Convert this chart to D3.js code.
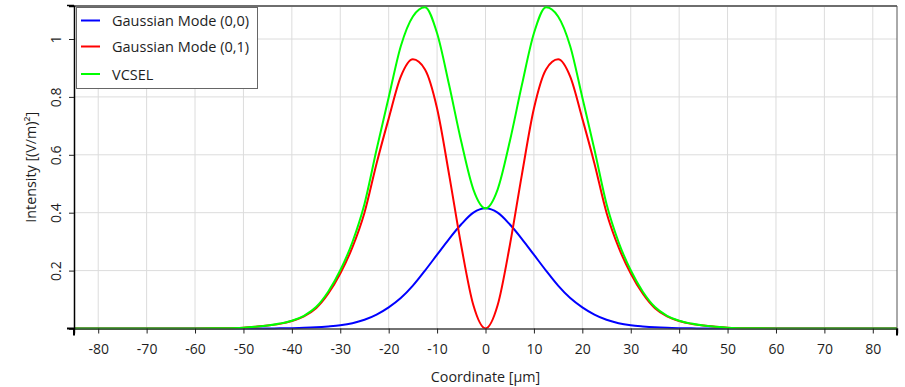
<!DOCTYPE html>
<html>
<head>
<meta charset="utf-8">
<script src="https://cdn.jsdelivr.net/npm/d3@7"></script>
<style>
  html, body { margin: 0; padding: 0; background: #ffffff; }
  svg { display: block; font-family: "Open Sans", "Noto Sans", sans-serif; }
</style>
</head>
<body>
<svg id="chart" width="905" height="387"></svg>
<script>
// Coordinate samples [µm]
const coords = [-85, -70, -60, -55, -50, -47.5, -45, -42.5, -40, -37.5, -35, -32.5, -30, -27.5, -25, -22.5,
  -20, -17.5, -15, -12.5, -10, -7.5, -5, -2.5, 0, 2.5, 5, 7.5, 10, 12.5, 15, 17.5,
  20, 22.5, 25, 27.5, 30, 32.5, 35, 37.5, 40, 42.5, 45, 47.5, 50, 55, 60, 70, 85];

// Intensity values
const mode00 = [0, 0, 0, 0, 0.0001, 0.0002, 0.0003, 0.0006, 0.0012, 0.0022, 0.004, 0.007, 0.011, 0.018, 0.03, 0.048,
  0.073, 0.105, 0.148, 0.2, 0.255, 0.31, 0.36, 0.4, 0.415, 0.4, 0.36, 0.31, 0.255, 0.2, 0.148, 0.105,
  0.073, 0.048, 0.03, 0.018, 0.011, 0.007, 0.004, 0.0022, 0.0012, 0.0006, 0.0003, 0.0002, 0.0001, 0, 0, 0, 0];

const mode01 = [0, 0, 0.0003, 0.001, 0.003, 0.006, 0.01, 0.016, 0.026, 0.042, 0.07, 0.12, 0.19, 0.28, 0.4, 0.57,
  0.725, 0.87, 0.93, 0.895, 0.76, 0.53, 0.285, 0.08, 0, 0.08, 0.285, 0.53, 0.76, 0.895, 0.93, 0.87,
  0.725, 0.57, 0.4, 0.28, 0.19, 0.12, 0.07, 0.042, 0.026, 0.016, 0.01, 0.006, 0.003, 0.001, 0.0003, 0, 0];

const vcsel = [0, 0, 0.0003, 0.001, 0.003, 0.006, 0.01, 0.017, 0.027, 0.044, 0.074, 0.127, 0.201, 0.298, 0.43, 0.618,
  0.798, 0.975, 1.078, 1.11, 1.02, 0.84, 0.645, 0.48, 0.415, 0.48, 0.645, 0.84, 1.02, 1.11, 1.078, 0.975,
  0.798, 0.618, 0.43, 0.298, 0.201, 0.127, 0.074, 0.044, 0.027, 0.017, 0.01, 0.006, 0.003, 0.001, 0.0003, 0, 0];

const seriesNames = ['Gaussian Mode (0,0)', 'Gaussian Mode (0,1)', 'VCSEL'];
const seriesColors = ['#0000ff', '#ff0000', '#00ff00'];
const xTicks = [-80, -70, -60, -50, -40, -30, -20, -10, 0, 10, 20, 30, 40, 50, 60, 70, 80];
const yTicks = [0.2, 0.4, 0.6, 0.8, 1];

const svg = d3.select('#chart');
const plotLeft = 74, plotRight = 897, plotTop = 6, plotBottom = 328.5;
const textColor = '#1e1e1e';

const x = d3.scaleLinear().domain([-85, 85]).range([plotLeft, plotRight]);
const y = d3.scaleLinear().domain([0, 1.114]).range([plotBottom, plotTop]);

// Grid
const grid = svg.append('g').attr('class', 'grid');
grid.selectAll('line.v')
  .data(xTicks)
  .enter()
  .append('line')
  .attr('x1', d => x(d)).attr('x2', d => x(d))
  .attr('y1', plotTop).attr('y2', plotBottom)
  .attr('stroke', '#dcdcdc').attr('stroke-width', 1);
grid.selectAll('line.h')
  .data(yTicks)
  .enter()
  .append('line')
  .attr('x1', plotLeft).attr('x2', plotRight)
  .attr('y1', d => y(d)).attr('y2', d => y(d))
  .attr('stroke', '#dcdcdc').attr('stroke-width', 1);

// Frame
svg.append('line').attr('x1', plotLeft).attr('x2', plotRight).attr('y1', plotTop).attr('y2', plotTop)
  .attr('stroke', '#6e6e6e').attr('stroke-width', 2);
svg.append('line').attr('x1', plotRight).attr('x2', plotRight).attr('y1', plotTop).attr('y2', plotBottom)
  .attr('stroke', '#555').attr('stroke-width', 1);

// Lines
const line = d3.line()
  .x((d, i) => x(coords[i]))
  .y(d => y(d))
  .curve(d3.curveMonotoneX);

const linesGroup = svg.append('g').attr('class', 'lines');
[mode00, mode01, vcsel].forEach((vals, i) => {
  linesGroup.append('path')
    .attr('d', line(vals))
    .attr('fill', 'none')
    .attr('stroke', seriesColors[i])
    .attr('stroke-width', 2)
    .attr('stroke-linejoin', 'round');
});

// Axes (plain hyphen for negatives, like the original)
const xAxis = svg.append('g')
  .attr('transform', `translate(0,${plotBottom})`)
  .call(d3.axisBottom(x).tickValues(xTicks).tickSize(5).tickFormat(d => String(d)));
xAxis.select('.domain').attr('stroke', '#444').attr('stroke-width', 1.5);
xAxis.selectAll('.tick line').attr('stroke', '#222');
xAxis.selectAll('.tick text')
  .attr('y', 15.5)
  .attr('fill', textColor)
  .attr('font-size', 14)
  .attr('font-family', '"Open Sans", sans-serif');

const yAxis = svg.append('g')
  .attr('transform', `translate(${plotLeft},0)`)
  .call(d3.axisLeft(y).tickValues(yTicks).tickSize(5).tickFormat(d => String(d)));
yAxis.select('.domain').attr('stroke', '#000').attr('stroke-width', 1.5);
yAxis.selectAll('.tick line').attr('stroke', '#222');
yAxis.selectAll('.tick text')
  .attr('x', 0).attr('dy', null).attr('y', 0)
  .attr('transform', 'translate(-19,0) rotate(-90)')
  .attr('text-anchor', 'middle')
  .attr('dominant-baseline', 'central')
  .attr('fill', textColor)
  .attr('font-size', 14)
  .attr('font-family', '"Open Sans", sans-serif');

// Corner caps
svg.append('line').attr('x1', plotLeft).attr('x2', plotLeft).attr('y1', plotBottom).attr('y2', plotBottom + 7)
  .attr('stroke', '#000').attr('stroke-width', 2);
svg.append('line').attr('x1', plotLeft - 7).attr('x2', plotLeft).attr('y1', plotBottom).attr('y2', plotBottom)
  .attr('stroke', '#000').attr('stroke-width', 2);
svg.append('line').attr('x1', plotRight).attr('x2', plotRight).attr('y1', plotBottom).attr('y2', plotBottom + 7)
  .attr('stroke', '#000').attr('stroke-width', 2);
svg.append('line').attr('x1', plotLeft - 7).attr('x2', plotLeft).attr('y1', plotTop - 0.5).attr('y2', plotTop - 0.5)
  .attr('stroke', '#000').attr('stroke-width', 1.5);

// Axis titles
svg.append('text')
  .attr('x', (plotLeft + plotRight) / 2)
  .attr('y', 382)
  .attr('text-anchor', 'middle')
  .attr('fill', textColor)
  .attr('font-size', 14.3)
  .text('Coordinate [μm]');
svg.append('text')
  .attr('transform', `translate(30,${(plotTop + plotBottom) / 2}) rotate(-90)`)
  .attr('text-anchor', 'middle')
  .attr('dominant-baseline', 'central')
  .attr('fill', textColor)
  .attr('font-size', 14.3)
  .text('Intensity [(V/m)²]');

// Legend
const legend = svg.append('g').attr('class', 'legend');
legend.append('rect')
  .attr('x', 76.5).attr('y', 7.5)
  .attr('width', 181).attr('height', 81)
  .attr('fill', '#fff').attr('stroke', '#666').attr('stroke-width', 1);
const legendY = [20.5, 46.5, 74];
seriesNames.forEach((name, i) => {
  legend.append('line')
    .attr('x1', 81).attr('x2', 100)
    .attr('y1', legendY[i]).attr('y2', legendY[i])
    .attr('stroke', seriesColors[i]).attr('stroke-width', 2);
  legend.append('text')
    .attr('x', 112).attr('y', legendY[i])
    .attr('dominant-baseline', 'central')
    .attr('fill', textColor)
    .attr('font-size', 14.5)
    .text(name);
});
</script>
</body>
</html>
